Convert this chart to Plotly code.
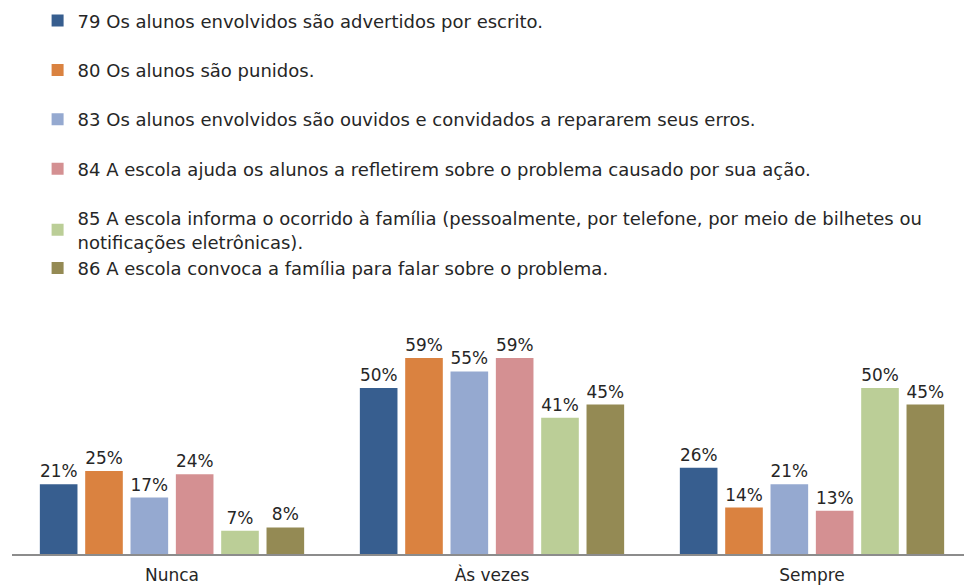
import plotly.graph_objects as go

# categories and series
categories = ["Nunca", "Às vezes", "Sempre"]
series_names = [
    "79 Os alunos envolvidos são advertidos por escrito.",
    "80 Os alunos são punidos.",
    "83 Os alunos envolvidos são ouvidos e convidados a repararem seus erros.",
    "84 A escola ajuda os alunos a refletirem sobre o problema causado por sua ação.",
    "85 A escola informa o ocorrido à família (pessoalmente, por telefone, por meio de bilhetes ou<br>notificações eletrônicas).",
    "86 A escola convoca a família para falar sobre o problema.",
]
values_79 = [21, 50, 26]
values_80 = [25, 59, 14]
values_83 = [17, 55, 21]
values_84 = [24, 59, 13]
values_85 = [7, 41, 50]
values_86 = [8, 45, 45]
all_values = [values_79, values_80, values_83, values_84, values_85, values_86]
colors = ["#375E8F", "#DA8240", "#95A9D0", "#D49092", "#BBCE97", "#948A54"]
groups = ["g1", "g2", "g3", "g4", "g5", "g5"]

font_family = "DejaVu Sans"

fig = go.Figure()
for name, vals, col, grp in zip(series_names, all_values, colors, groups):
    fig.add_trace(go.Bar(
        x=categories, y=vals, name=name,
        marker=dict(color=col, line=dict(width=0)),
        text=[f"{v}%" for v in vals], textposition="outside",
        textfont=dict(family=font_family, size=17, color="#262626"),
        cliponaxis=False, legendgroup=grp,
    ))

fig.update_layout(
    width=964, height=585,
    margin=dict(l=12, r=0, t=300, b=31, autoexpand=False),
    paper_bgcolor="white", plot_bgcolor="white",
    barmode="group", bargap=0.15, bargroupgap=0.17,
    font=dict(family=font_family, size=18, color="#262626"),
    showlegend=True,
    legend=dict(
        xref="container", yref="container",
        x=0.039, y=0.996, xanchor="left", yanchor="top",
        font=dict(family=font_family, size=18, color="#262626"),
        tracegroupgap=23, itemwidth=30,
        bgcolor="rgba(0,0,0,0)",
    ),
    xaxis=dict(
        range=[-0.5, 2.475], showline=True, linecolor="#8C8C8C", linewidth=1.5,
        ticks="", showgrid=False, tickfont=dict(size=17, color="#262626"),
        tickangle=0, ticklabelstandoff=5,
    ),
    yaxis=dict(range=[0, 76.5], visible=False, showgrid=False, zeroline=False),
)

# drop the browser's default body margin so the figure sits at the page corner
fig.write_html("out.html", config={"displayModeBar": False},
               post_script="document.body.style.margin='0';")
